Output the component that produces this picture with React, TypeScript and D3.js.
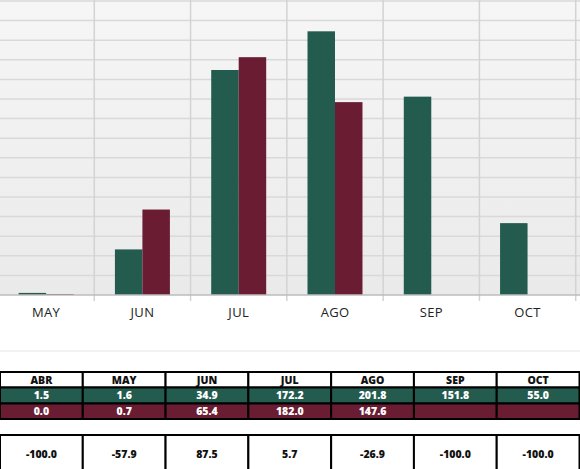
import * as d3 from 'd3';
import { useEffect, useRef } from 'react';

const MONTHS = ['ABR', 'MAY', 'JUN', 'JUL', 'AGO', 'SEP', 'OCT'];
const SERIES_A = [1.5, 1.6, 34.9, 172.2, 201.8, 151.8, 55.0];
const SERIES_B: (number | null)[] = [0.0, 0.7, 65.4, 182.0, 147.6, null, null];
const VARIATION = [-100.0, -57.9, 87.5, 5.7, -26.9, -100.0, -100.0];
const Y_MAX = 225;
const Y_STEP = 15;

const GREEN = '#235B4E';
const MAROON = '#691C32';
const FONT = '"Open Sans", "DejaVu Sans", sans-serif';

const WIDTH = 580;
const HEIGHT = 469;

export default function App() {
  const ref = useRef<SVGSVGElement>(null);

  useEffect(() => {
    document.body.style.margin = '0';
    const svg = d3.select(ref.current);
    svg.selectAll('*').remove();

    const baseline = 295;
    const x = d3.scaleBand<string>().domain(MONTHS).range([-98.3, 575.7]).padding(0);
    const y = d3.scaleLinear().domain([0, Y_MAX]).range([baseline, 1]);
    const bw = x.bandwidth();
    const groupPad = bw * 0.2145;
    const barW = (bw - groupPad * 2) / 2;

    const defs = svg.append('defs');
    const grad = defs.append('linearGradient')
      .attr('id', 'plot-bg')
      .attr('x1', 0).attr('y1', 0).attr('x2', 0).attr('y2', 1);
    grad.append('stop').attr('offset', '0%').attr('stop-color', '#f6f6f6');
    grad.append('stop').attr('offset', '100%').attr('stop-color', '#eaeaea');

    svg.append('rect')
      .attr('x', 0)
      .attr('y', 0)
      .attr('width', WIDTH)
      .attr('height', baseline)
      .attr('fill', 'url(#plot-bg)');

    // horizontal grid
    svg.append('g')
      .selectAll('line')
      .data(d3.range(Y_STEP, Y_MAX + 1, Y_STEP))
      .enter()
      .append('line')
      .attr('x1', 0)
      .attr('x2', WIDTH)
      .attr('y1', (v) => y(v))
      .attr('y2', (v) => y(v))
      .attr('stroke', '#d9d9d9')
      .attr('stroke-width', 1.5);

    // vertical grid + ticks at band boundaries
    const bounds = MONTHS.slice(1).map((m) => x(m) as number).concat([(x('OCT') as number) + bw]);
    svg.append('g')
      .selectAll('line')
      .data(bounds)
      .enter()
      .append('line')
      .attr('x1', (v) => v)
      .attr('x2', (v) => v)
      .attr('y1', 0)
      .attr('y2', baseline + 6)
      .attr('stroke', '#d3d3d3')
      .attr('stroke-width', 1.5);

    const bars = svg.append('g');
    bars.selectAll('rect.a')
      .data(MONTHS.map((m, i) => ({ m, v: SERIES_A[i] })))
      .enter()
      .append('rect')
      .attr('class', 'a')
      .attr('x', (d) => (x(d.m) as number) + groupPad)
      .attr('y', (d) => y(d.v))
      .attr('width', barW)
      .attr('height', (d) => baseline - y(d.v))
      .attr('fill', GREEN);

    bars.selectAll('rect.b')
      .data(MONTHS.map((m, i) => ({ m, v: SERIES_B[i] })).filter((d) => d.v != null))
      .enter()
      .append('rect')
      .attr('class', 'b')
      .attr('x', (d) => (x(d.m) as number) + groupPad + barW)
      .attr('y', (d) => y(d.v as number))
      .attr('width', barW)
      .attr('height', (d) => baseline - y(d.v as number))
      .attr('fill', MAROON);

    svg.append('line')
      .attr('x1', 0)
      .attr('x2', WIDTH)
      .attr('y1', baseline)
      .attr('y2', baseline)
      .attr('stroke', '#bdbdbd')
      .attr('stroke-width', 1.5);

    // month labels (the ABR column sits left of the visible area)
    svg.append('g')
      .selectAll('text')
      .data(MONTHS.filter((m) => (x(m) as number) + bw / 2 > 0))
      .enter()
      .append('text')
      .attr('x', (m) => (x(m) as number) + bw / 2)
      .attr('y', 317)
      .attr('text-anchor', 'middle')
      .style('font-family', FONT)
      .style('font-size', '13px')
      .style('letter-spacing', '0.3px')
      .style('fill', '#222')
      .text((m) => m);

    svg.append('line')
      .attr('x1', 0)
      .attr('x2', WIDTH)
      .attr('y1', 351)
      .attr('y2', 351)
      .attr('stroke', '#e4e4e4')
      .attr('stroke-width', 1);

    // data table
    const col = d3.scaleBand<string>().domain(MONTHS).range([0, 579.5]);
    const cw = col.bandwidth();
    const rows = [
      { top: 372, h: 15.5, fill: '#ffffff', color: '#111', values: MONTHS as (string | null)[] },
      { top: 387.5, h: 16, fill: GREEN, color: '#ffffff', values: SERIES_A.map((v) => v.toFixed(1)) },
      { top: 403.5, h: 15.5, fill: MAROON, color: '#ffffff', values: SERIES_B.map((v) => (v == null ? null : v.toFixed(1))) },
      { top: 435, h: 38, fill: '#ffffff', color: '#111', values: VARIATION.map((v) => v.toFixed(1)) },
    ];

    const table = svg.append('g');
    rows.forEach((row) => {
      const cells = table.append('g');
      cells.selectAll('rect')
        .data(MONTHS)
        .enter()
        .append('rect')
        .attr('x', (m) => col(m) as number)
        .attr('y', row.top)
        .attr('width', cw)
        .attr('height', row.h)
        .attr('fill', row.fill)
        .attr('stroke', '#000')
        .attr('stroke-width', 2);
      cells.selectAll('text')
        .data(MONTHS.map((m, i) => ({ m, t: row.values[i] })).filter((d) => d.t != null))
        .enter()
        .append('text')
        .attr('x', (d) => (col(d.m) as number) + cw / 2)
        .attr('y', row.top + row.h / 2)
        .attr('dy', '0.36em')
        .attr('text-anchor', 'middle')
        .style('font-family', FONT)
        .style('font-size', '10.5px')
        .style('font-weight', 800)
        .style('fill', row.color)
        .text((d) => d.t as string);
    });
  }, []);

  return (
    <svg
      ref={ref}
      width={WIDTH}
      height={HEIGHT}
      style={{ display: 'block', background: '#fff' }}
      role="img"
      aria-label="Comparativo mensual"
    />
  );
}
